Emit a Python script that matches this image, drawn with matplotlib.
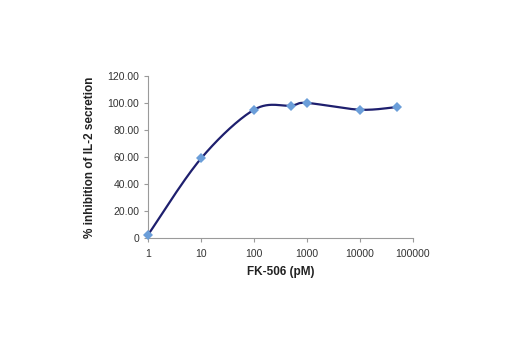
import numpy as np
import matplotlib.pyplot as plt
from matplotlib.ticker import FixedLocator, FixedFormatter

# FK-506 dose response
conc = [1, 10, 100, 500, 1000, 10000, 50000]
inhibition = [2.5, 59.0, 95.0, 98.0, 100.0, 95.0, 97.0]
x_ticks = [1, 10, 100, 1000, 10000, 100000]
x_labels = ["1", "10", "100", "1000", "10000", "100000"]
y_ticks = [0, 20, 40, 60, 80, 100, 120]
y_labels = ["0", "20.00", "40.00", "60.00", "80.00", "100.00", "120.00"]


def smooth(xs, ys, n=30):
    # Catmull-Rom spline through the points (in log10 x), end points repeated,
    # like a spreadsheet "smoothed line"
    lx = np.log10(xs)
    ys = np.asarray(ys, float)
    px = np.concatenate([[lx[0]], lx, [lx[-1]]])
    py = np.concatenate([[ys[0]], ys, [ys[-1]]])
    outx, outy = [], []
    t = np.linspace(0, 1, n)
    for i in range(1, len(px) - 2):
        for p, out in ((px, outx), (py, outy)):
            p0, p1, p2, p3 = p[i - 1:i + 3]
            m1 = (p2 - p0) / 2
            m2 = (p3 - p1) / 2
            h00 = 2 * t**3 - 3 * t**2 + 1
            h10 = t**3 - 2 * t**2 + t
            h01 = -2 * t**3 + 3 * t**2
            h11 = t**3 - t**2
            out.extend(h00 * p1 + h10 * m1 + h01 * p2 + h11 * m2)
    return 10 ** np.array(outx), np.array(outy)


plt.rcParams['font.family'] = ['Liberation Sans', 'DejaVu Sans']

fig = plt.figure(figsize=(5.2, 3.5), dpi=100)
ax = fig.add_axes([0.285, 0.32, 0.509, 0.463])

sx, sy = smooth(conc, inhibition)
ax.plot(sx, sy, color='#1e1f6e', linewidth=1.6, zorder=2)
ax.plot(conc, inhibition, linestyle='none', marker='D', markersize=5.5,
        color='#6b9ed9', markeredgewidth=0, zorder=3, clip_on=False)

ax.set_xscale('log')
ax.set_xlim(1, 100000)
ax.set_ylim(0, 120)
ax.xaxis.set_major_locator(FixedLocator(x_ticks))
ax.xaxis.set_major_formatter(FixedFormatter(x_labels))
ax.xaxis.set_minor_locator(FixedLocator([]))
ax.yaxis.set_major_locator(FixedLocator(y_ticks))
ax.yaxis.set_major_formatter(FixedFormatter(y_labels))

for s in ('top', 'right'):
    ax.spines[s].set_visible(False)
for s in ('left', 'bottom'):
    ax.spines[s].set_color('#9a9a9a')
    ax.spines[s].set_linewidth(0.8)
ax.tick_params(axis='both', labelsize=7.5, colors='#9a9a9a', labelcolor='#333333',
               length=3, width=0.8)
ax.tick_params(axis='x', pad=5)

ax.set_xlabel('FK-506 (pM)', fontsize=8.5, fontweight='bold', color='#222222', labelpad=5)
ax.set_ylabel('% inhibition of IL-2 secretion', fontsize=8.5, fontweight='bold',
              color='#222222', labelpad=8)

fig.savefig('out.png', dpi=100, facecolor='white')
